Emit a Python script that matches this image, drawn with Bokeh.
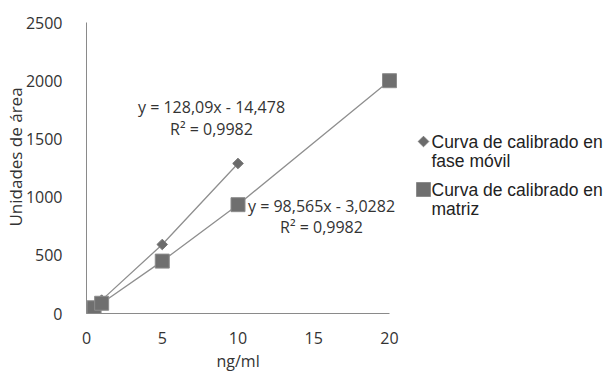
from bokeh.plotting import figure
from bokeh.models import Range1d, FixedTicker, Label, Title
from bokeh.embed import file_html
from bokeh.resources import INLINE
import math

# ---- data ----
x_movil = [0.05, 0.5, 1, 5, 10]
y_movil = [15, 60, 115, 593, 1289]
x_matriz = [0.05, 0.5, 1, 5, 10, 20]
y_matriz = [20, 49, 88, 450, 935, 2000]
x_ticks = [0, 5, 10, 15, 20]
y_ticks = [0, 500, 1000, 1500, 2000, 2500]
eq_movil = ["y = 128,09x - 14,478", "R\u00b2 = 0,9982"]
eq_matriz = ["y = 98,565x - 3,0282", "R\u00b2 = 0,9982"]
legend_lines = [["Curva de calibrado en", "fase m\u00f3vil"], ["Curva de calibrado en", "matriz"]]
x_title = "ng/ml"
y_title = "Unidades de \u00e1rea"

FONT = "Open Sans"
TXT = "#333333"
AXIS = "#8a8a8a"

# layout (pixels)
W = 598
LEFT = 80          # y axis position
AX_W, AX_H = 303, 291   # pixel extent of the 0..20 / 0..2500 axes
AX_TOP = 22        # pixels above the 2500 tick
BOTTOM = 58
FW, FH = W - LEFT, AX_TOP + AX_H
XMAX, YMAX = x_ticks[-1], y_ticks[-1]

def dx(px):  # pixel offset from the y axis -> data x
    return px / AX_W * XMAX

def dy(px):  # pixel offset above the x axis -> data y
    return px / AX_H * YMAX

p = figure(frame_width=FW, frame_height=FH, output_backend="svg", toolbar_location=None,
           x_range=Range1d(0, dx(FW)), y_range=Range1d(0, dy(FH)),
           min_border_left=LEFT, min_border_right=0, min_border_top=0, min_border_bottom=BOTTOM,
           background_fill_color="white", border_fill_color="white")
p.outline_line_color = None
p.grid.visible = False

for ax in (p.xaxis[0], p.yaxis[0]):
    ax.axis_line_color = AXIS
    ax.major_tick_line_color = None
    ax.minor_tick_line_color = None
    ax.major_label_text_font = FONT
    ax.major_label_text_font_size = "16px"
    ax.major_label_text_color = TXT
    ax.axis_label_text_font = FONT
    ax.axis_label_text_font_style = "normal"
    ax.axis_label_text_color = TXT
p.xaxis.bounds = (0, XMAX)
p.yaxis.bounds = (0, YMAX)
p.xaxis.ticker = FixedTicker(ticks=x_ticks)
p.yaxis.ticker = FixedTicker(ticks=y_ticks)
p.xaxis.major_label_standoff = 12
p.yaxis.major_label_standoff = 18
p.yaxis.axis_label = y_title
p.yaxis.axis_label_text_font_size = "17px"
p.yaxis.axis_label_standoff = -4

p.add_layout(Title(text=x_title, align="left", offset=130, standoff=2,
                   text_font=FONT, text_font_size="16px", text_font_style="normal",
                   text_color=TXT), "below")

LINE = "#8f8f8f"
p.line(x_movil, y_movil, line_color=LINE, line_width=1.3)
p.line(x_matriz, y_matriz, line_color=LINE, line_width=1.3)
MOVIL = dict(marker="square", angle=math.pi / 4, size=7.5, fill_color="#6b6b6b", line_color="#7a7a7a")
MATRIZ = dict(marker="square", size=14, fill_color="#6f6f6f", line_color="#8c8c8c", line_width=1)
p.scatter(x_movil, y_movil, **MOVIL)
p.scatter(x_matriz, y_matriz, **MATRIZ)

def add_eq(lines, cx, y1, y2):
    for t, yy in zip(lines, (y1, y2)):
        p.add_layout(Label(x=cx, y=yy, text=t, text_align="center", text_baseline="middle",
                           text_font=FONT, text_font_size="16px", text_color=TXT))

add_eq(eq_movil, dx(125), dy(207), dy(185))
add_eq(eq_matriz, dx(235), dy(108), dy(87))

# legend (drawn to the right of the axes)
leg_key_x, leg_txt_x = dx(337), dx(345)
for style, lines, top in ((MOVIL, legend_lines[0], 172), (MATRIZ, legend_lines[1], 124)):
    p.scatter([leg_key_x], [dy(top)], **style)
    for i, t in enumerate(lines):
        p.add_layout(Label(x=leg_txt_x, y=dy(top - 19.5 * i), text=t, text_align="left",
                           text_baseline="middle", text_font="Liberation Sans",
                           text_font_size="17.5px", text_color="#222222"))

open("out.html", "w").write(file_html(p, INLINE))
